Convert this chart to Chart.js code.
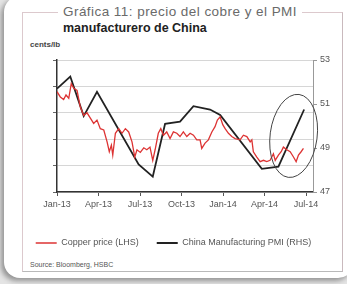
<!DOCTYPE html>
<html>
<head>
<meta charset="utf-8">
<script src="https://cdn.jsdelivr.net/npm/chart.js@4.4.0/dist/chart.umd.min.js"></script>
<style>
  body { margin: 0; width: 347px; height: 284px; background: #e4e4e4; overflow: hidden; position: relative; font-family: "Liberation Sans", Arial, sans-serif; }
  #card { position: absolute; left: 4px; top: -4px; width: 350px; height: 282px; background: #fff; border-radius: 16px; box-shadow: -3px 3px 5px rgba(0,0,0,0.35); }
  #frame { position: absolute; left: 22px; top: 12px; width: 319px; height: 258px; border: 1px solid #dcc9cd; border-right-color: #c9b9bd; border-bottom-color: #b9b9b9; }
  #title { position: absolute; left: 58px; top: 4px; background: #fff; padding: 0 5px; font-size: 13.5px; line-height: 16px; color: #6a6a6a; letter-spacing: 0.45px; }
  #title b { color: #222; font-size: 12.5px; letter-spacing: 0; }
  #unit { position: absolute; left: 30px; top: 40px; font-size: 8px; color: #444; font-weight: bold; }
  #source { position: absolute; left: 30px; top: 261px; font-size: 7px; color: #555; }
  canvas { position: absolute; left: 0; top: 0; }
</style>
</head>
<body>
<div id="card"></div>
<div id="frame"></div>
<div id="title">Gráfica 11: precio del cobre y el PMI<br><b>manufacturero de China</b></div>
<div id="unit">cents/lb</div>
<div id="source">Source: Bloomberg, HSBC</div>
<canvas id="chart" width="347" height="284"></canvas>
<script>
  // x positions are months since Jan-13
  const tickLabels = ['Jan-13', 'Apr-13', 'Jul-13', 'Oct-13', 'Jan-14', 'Apr-14', 'Jul-14'];

  const copperMonths = [0, 0.24, 0.48, 0.65, 0.85, 1.03, 1.21, 1.45, 1.68, 1.93, 2.17, 2.41, 2.65, 2.89,
    3.13, 3.38, 3.62, 3.78, 3.93, 4.03, 4.22, 4.46, 4.70, 4.94, 5.18, 5.42, 5.62, 5.78, 6.02, 6.27,
    6.49, 6.72, 6.92, 7.09, 7.32, 7.50, 7.69, 7.93, 8.17, 8.41, 8.66, 8.89, 9.13, 9.38, 9.62, 9.86,
    10.10, 10.34, 10.46, 10.70, 10.94, 11.19, 11.42, 11.59, 11.79, 11.98, 12.15, 12.39, 12.63, 12.87,
    13.23, 13.47, 13.72, 13.96, 14.08, 14.19, 14.44, 14.68, 14.92, 15.16, 15.40, 15.64, 15.77, 16.00,
    16.20, 16.36, 16.61, 16.85, 17.09, 17.28, 17.45, 17.64, 17.81];
  const copperPrice = [356, 352, 350, 353.5, 351, 362, 358.5, 357, 344.5, 338, 340, 336, 332, 334.5,
    328, 327, 318, 310.5, 315.5, 308, 324.5, 328, 324.5, 328, 325.5, 318, 306.5, 312, 310, 313.5,
    312, 314, 304, 312, 324.5, 328, 323, 325.5, 320.5, 325.5, 324.5, 322, 325.5, 322, 324.5, 323,
    319.5, 319.5, 313, 317, 319.5, 325.5, 329.5, 334.5, 337, 331, 328, 324.5, 322, 320.5,
    319.5, 323, 322, 318, 319.5, 310.5, 306.5, 303, 304, 303, 304, 309, 304, 308,
    310.5, 314, 312, 310.5, 306.5, 303, 308, 310.5, 313];

  const pmiMonths = [0, 0.96, 1.93, 2.89, 5.9, 6.92, 7.81, 8.89, 9.86, 11.06, 11.79, 14.8, 16.0, 17.86];
  const pmiValues = [51.7, 52.25, 50.45, 51.55, 48.25, 47.7, 50.1, 50.2, 50.9, 50.75, 50.5, 48.05, 48.15, 50.75];

  function toPoints(xs, ys) {
    return xs.map(function(x, i) { return { x: x, y: ys[i] }; });
  }

  const font = { family: '"Liberation Sans", Arial, sans-serif', size: 9 };

  // hand-drawn circle around the last months
  const circlePlugin = {
    id: 'circle',
    afterDatasetsDraw: function(chart) {
      const x = chart.scales.x, y = chart.scales.yR, ctx = chart.ctx;
      const cx = x.getPixelForValue(17.1), cy = y.getPixelForValue(49.55);
      const rx = x.getPixelForValue(17.1 + 1.7) - cx;
      const ry = y.getPixelForValue(49.55) - y.getPixelForValue(49.55 + 1.9);
      ctx.save();
      ctx.strokeStyle = '#444';
      ctx.lineWidth = 1;
      ctx.beginPath();
      ctx.ellipse(cx, cy, rx, ry, 0.13, 0, Math.PI * 2);
      ctx.stroke();
      ctx.restore();
    }
  };

  new Chart(document.getElementById('chart'), {
    type: 'line',
    data: {
      datasets: [{
        label: 'Copper price (LHS)',
        data: toPoints(copperMonths, copperPrice),
        yAxisID: 'yL',
        borderColor: '#dd3333',
        backgroundColor: '#dd3333',
        borderWidth: 1.3,
        pointRadius: 0,
        tension: 0
      }, {
        label: 'China Manufacturing PMI (RHS)',
        data: toPoints(pmiMonths, pmiValues),
        yAxisID: 'yR',
        borderColor: '#222',
        backgroundColor: '#222',
        borderWidth: 1.8,
        pointRadius: 0,
        tension: 0
      }]
    },
    options: {
      responsive: false,
      animation: false,
      layout: { padding: { top: 60, left: 0, right: 0, bottom: 26.5 } },
      plugins: {
        tooltip: { enabled: false },
        legend: {
          position: 'bottom',
          labels: {
            usePointStyle: true,
            pointStyleWidth: 21,
            pointStyle: 'line',
            padding: 18,
            color: '#555',
            font: font
          }
        }
      },
      scales: {
        x: {
          type: 'linear',
          min: 0,
          max: 18.5,
          afterBuildTicks: function(s) {
            s.ticks = tickLabels.map(function(_, i) { return { value: i * 3 }; });
          },
          afterFit: function(s) { s.height = 28.5; },
          ticks: {
            color: '#555',
            font: font,
            padding: 3,
            maxRotation: 0,
            callback: function(v) { return tickLabels[v / 3]; }
          },
          grid: { drawOnChartArea: false, tickLength: 4, color: '#555' },
          border: { color: '#333', width: 1.5 }
        },
        yL: {
          position: 'left',
          min: 280,
          max: 380,
          ticks: { stepSize: 20, display: false },
          afterFit: function(s) { s.width = 57; },
          grid: { color: '#d6d6d6', tickColor: '#666', tickLength: 4 },
          border: { color: '#333', width: 1.5 }
        },
        yR: {
          position: 'right',
          min: 47,
          max: 53,
          ticks: { stepSize: 2, color: '#555', font: font, padding: 3 },
          afterFit: function(s) { s.width = 34; },
          grid: { drawOnChartArea: false, tickLength: 4, color: '#999' },
          border: { color: '#999', width: 1 }
        }
      }
    },
    plugins: [circlePlugin]
  });
</script>
</body>
</html>
